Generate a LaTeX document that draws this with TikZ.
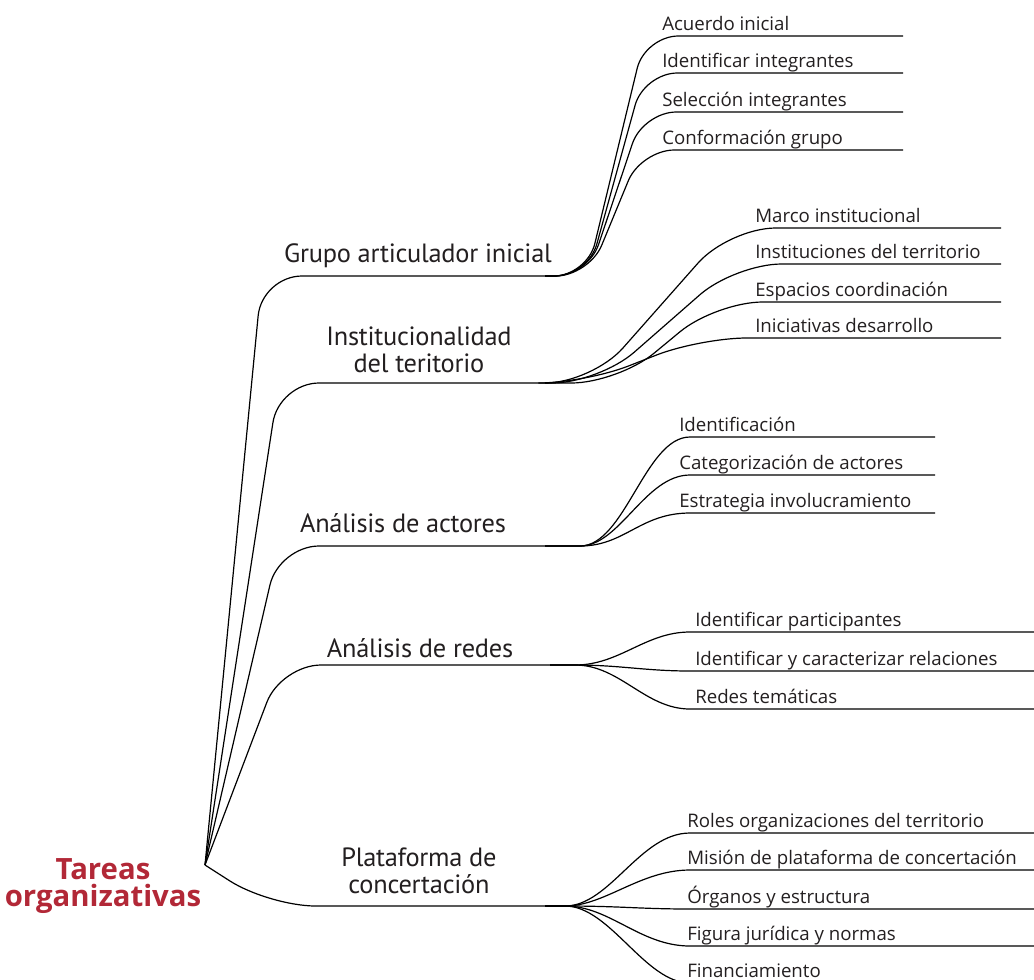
\documentclass[tikz,border=0pt]{standalone}
\usepackage{fontspec}
\setmainfont{PT Sans}
\newfontfamily\subfont{Open Sans}
\newfontfamily\temafont[LetterSpace=-1]{PT Sans}
\newfontfamily\titfont{Open Sans}
\definecolor{rojo}{RGB}{178,40,55}
\definecolor{tinta}{RGB}{35,31,32}
\tikzset{
  rama/.style={line width=0.9pt, rounded corners=#1},
  rama/.default=30,
  curva/.style={line width=0.9pt},
  tema/.style={font=\temafont\fontsize{19.8}{20.25}\selectfont, align=center, text=tinta, inner sep=0pt, anchor=base},
  sub/.style={font=\subfont\fontsize{14}{16}\selectfont, anchor=base west, text=tinta, inner sep=0pt},
}

\begin{document}
\begin{tikzpicture}[x=0.75pt,y=-0.75pt]
\useasboundingbox (0,0) rectangle (1034,979);
% raiz
\coordinate (raiz) at (205,865);
\node[font=\titfont\bfseries\fontsize{22}{20}\selectfont, text=rojo, align=center, inner sep=0pt, anchor=base] (titulo) at (103,906) {Tareas\\organizativas};
% temas
\coordinate (h1) at (545,276);
\coordinate (h2) at (545,383);
\coordinate (h3) at (545,546);
\coordinate (h4) at (550,665);
\coordinate (h5) at (545,906);
\draw[rama] (raiz) -- (262,276) -- (h1);
\draw[rama] (raiz) -- (279,383) -- (h2);
\draw[rama] (raiz) -- (279,546) -- (h3);
\draw[rama] (raiz) -- (281,665) -- (h4);
\draw[rama=35] (raiz) -- (269,906) -- (h5);
\node[tema] (t1) at (418,262) {Grupo articulador inicial};
\node[tema] (t2) at (419,372) {Institucionalidad\\del teritorio};
\node[tema] (t3) at (403,532) {Análisis de actores};
\node[tema] (t4) at (420,657) {Análisis de redes};
\node[tema] (t5) at (419,893) {Plataforma de\\concertación};
% grupo articulador
\foreach \y/\px/\qx/\txt [count=\i] in {36/587/645/Acuerdo inicial, 73/588/644/Identificar integrantes, 112/588/643/Selección integrantes, 150/589/641/Conformación grupo}{
  \node[sub] (a\i) at (662,\y-6) {\txt};
  \coordinate (fa\i) at (903,\y);
  \draw[rama=25] (h1) -- (\px,276) -- (\qx,\y) -- (fa\i);
}
% institucionalidad
\foreach \y/\px/\qx/\txt [count=\i] in {228/592/729/Marco institucional, 264/599/735/Instituciones del territorio, 302/618/716/Espacios coordinación, 338/585/700/Iniciativas desarrollo}{
  \node[sub] (b\i) at (755,\y-6) {\txt};
  \coordinate (fb\i) at (1001,\y);
  \draw[rama=35] (h2) -- (\px,383) -- (\qx,\y) -- (fb\i);
}
% actores
\foreach \y/\cx/\dx/\txt [count=\i] in {437/625/645/Identificación, 475/620/645/Categorización de actores, 513/625/640/Estrategia involucramiento}{
  \node[sub] (c\i) at (679,\y-6) {\txt};
  \coordinate (fc\i) at (935,\y);
  \draw[curva] (h3) -- (580,546) .. controls (\cx,546) and (\dx,\y) .. (690,\y) -- (fc\i);
}
% redes
\foreach \y/\cx/\dx/\txt [count=\i] in {632/620/645/Identificar participantes, 671/620/645/Identificar y caracterizar relaciones, 709/620/645/Redes temáticas}{
  \node[sub] (d\i) at (695,\y-6) {\txt};
  \coordinate (fd\i) at (1040,\y);
  \draw[curva] (h4) -- (575,665) .. controls (\cx,665) and (\dx,\y) .. (690,\y) -- (fd\i);
}
% plataforma
\foreach \y/\cx/\dx/\txt [count=\i] in {833/610/640/Roles organizaciones del territorio, 870/605/640/Misión de plataforma de concertación, 909/620/640/Órganos y estructura, 946/610/640/Figura jurídica y normas, 983/610/645/Financiamiento}{
  \node[sub] (e\i) at (687,\y-6) {\txt};
  \coordinate (fe\i) at (1040,\y);
  \draw[curva] (h5) -- (565,906) .. controls (\cx,906) and (\dx,\y) .. (690,\y) -- (fe\i);
}
\end{tikzpicture}
\end{document}
